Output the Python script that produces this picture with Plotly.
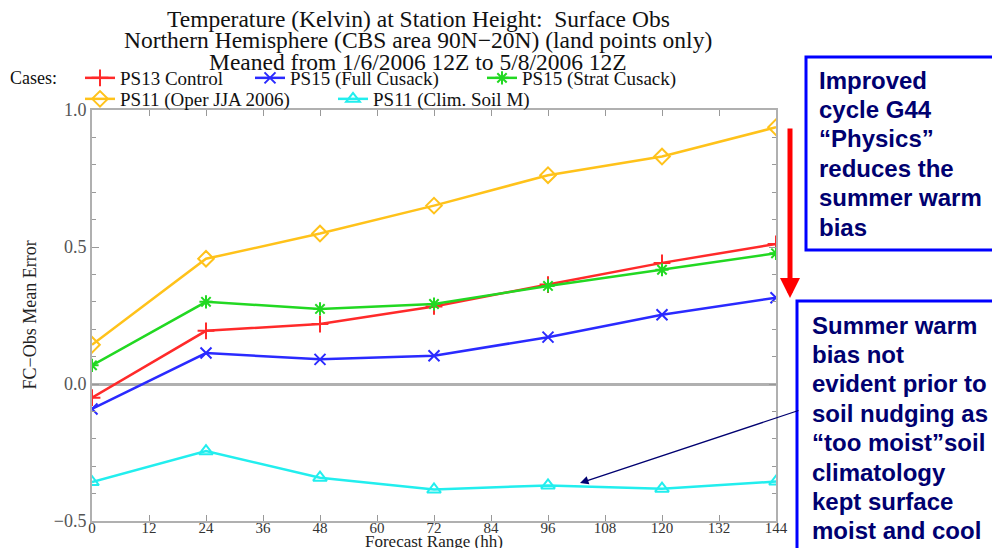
import plotly.graph_objects as go

# ---------------- data ----------------
forecast_hours = [0, 24, 48, 72, 96, 120, 144]
ps13_control = [-0.05, 0.194, 0.219, 0.283, 0.363, 0.442, 0.511]
ps15_full_cusack = [-0.091, 0.113, 0.090, 0.103, 0.171, 0.253, 0.315]
ps15_strat_cusack = [0.068, 0.300, 0.274, 0.292, 0.358, 0.417, 0.477]
ps11_oper = [0.143, 0.457, 0.549, 0.651, 0.762, 0.830, 0.937]
ps11_clim_soil = [-0.358, -0.245, -0.342, -0.385, -0.370, -0.382, -0.356]

series_names = ["PS13 Control", "PS15 (Full Cusack)", "PS15 (Strat Cusack)",
                "PS11 (Oper JJA 2006)", "PS11 (Clim. Soil M)"]
x_ticks = [0, 12, 24, 36, 48, 60, 72, 84, 96, 108, 120, 132, 144]
y_ticks = [-0.5, 0.0, 0.5, 1.0]
y_ticklabels = ["\u22120.5", "0.0", "0.5", "1.0"]

title_lines = ["Temperature (Kelvin) at Station Height:  Surface Obs",
               "Northern Hemisphere (CBS area 90N\u221220N) (land points only)",
               "Meaned from 1/6/2006 12Z to 5/8/2006 12Z"]
box1_lines = ["Improved", "cycle G44", "\u201cPhysics\u201d", "reduces the",
              "summer warm", "bias"]
box2_lines = ["Summer warm", "bias not", "evident prior to", "soil nudging as",
              "\u201ctoo moist\u201dsoil", "climatology", "kept surface",
              "moist and cool"]

# ---------------- layout geometry ----------------
# the page body has an 8px margin, so the figure starts at (8, 8) on screen
OFF = 8
W, H = 1000 - OFF, 548 - OFF
L, R, T, B = 92 - OFF, 224, 110 - OFF, 27
PW, PH = W - L - R, H - T - B


def px(xs):
    """screen x pixel -> paper coordinate"""
    return (xs - OFF - L) / PW


def py(ys):
    """screen y pixel -> paper coordinate"""
    return (H - B - (ys - OFF)) / PH


serif = "Liberation Serif"
sans = "Liberation Sans"
navy = "#000070"

styles = [
    dict(color="#ff2a2a", symbol="cross-thin-open", size=12),
    dict(color="#2a2aff", symbol="x-thin-open", size=11),
    dict(color="#22d822", symbol="asterisk-open", size=11),
    dict(color="#ffc21a", symbol="diamond-open", size=12),
    dict(color="#22eeee", symbol="triangle-up-open", size=12),
]
series = [ps13_control, ps15_full_cusack, ps15_strat_cusack, ps11_oper, ps11_clim_soil]
legend_keys = ["legend", "legend2", "legend3", "legend4", "legend5"]
legend_pos = [(80, 78), (250, 78), (482, 78), (80, 99), (333, 99)]

fig = go.Figure()
for name, vals, st, lk in zip(series_names, series, styles, legend_keys):
    fig.add_trace(go.Scatter(
        x=forecast_hours, y=vals, name=name, mode="lines+markers",
        line=dict(color=st["color"], width=2.5),
        marker=dict(symbol=st["symbol"], size=st["size"], color=st["color"],
                    line=dict(color=st["color"], width=2)),
        legend=lk,
    ))

legend_layouts = {}
for lk, (lx, ly) in zip(legend_keys, legend_pos):
    legend_layouts[lk] = dict(
        x=(lx - OFF) / W, y=1 - (ly - OFF) / H, xref="container", yref="container",
        xanchor="left", yanchor="middle", orientation="h",
        bgcolor="rgba(0,0,0,0)", borderwidth=0,
        font=dict(family=serif, size=19, color="#111"),
        itemwidth=30,
    )

annotations = []
for i, t in enumerate(title_lines):
    annotations.append(dict(text=t, x=px(418), y=py(18.5 + 21.5 * i), xref="paper", yref="paper",
                            xanchor="center", yanchor="middle", showarrow=False,
                            font=dict(family=serif, size=23.5, color="#111")))
annotations.append(dict(text="Cases:", x=px(8), y=py(78), xref="paper", yref="paper",
                        xanchor="left", yanchor="middle", showarrow=False,
                        font=dict(family=serif, size=18, color="#111")))
annotations.append(dict(text="FC\u2212Obs Mean Error", x=px(29), y=0.5, xref="paper", yref="paper",
                        xanchor="center", yanchor="middle", showarrow=False, textangle=-90,
                        font=dict(family=serif, size=18, color="#222")))
annotations.append(dict(text="Forecast Range (hh)", x=0.5, y=py(541), xref="paper", yref="paper",
                        xanchor="center", yanchor="middle", showarrow=False,
                        font=dict(family=serif, size=17, color="#222")))
for i, t in enumerate(box1_lines):
    annotations.append(dict(text="<b>%s</b>" % t, x=px(817), y=py(80 + 29.4 * i), xref="paper",
                            yref="paper", xanchor="left", yanchor="middle", showarrow=False,
                            font=dict(family=sans, size=24, color=navy)))
for i, t in enumerate(box2_lines):
    annotations.append(dict(text="<b>%s</b>" % t, x=px(810), y=py(325 + 29.4 * i), xref="paper",
                            yref="paper", xanchor="left", yanchor="middle", showarrow=False,
                            font=dict(family=sans, size=24, color=navy)))
# arrows
annotations.append(dict(text="", x=px(580), y=py(483), xref="paper", yref="paper",
                        ax=800 - 580, ay=410 - 483, showarrow=True, arrowhead=2,
                        arrowsize=1.3, arrowwidth=1.3, arrowcolor=navy))
annotations.append(dict(text="", x=px(790), y=py(298), xref="paper", yref="paper",
                        ax=0, ay=127 - 298, showarrow=True, arrowhead=2,
                        arrowsize=0.8, arrowwidth=5, arrowcolor="#ff0000"))

shapes = [
    dict(type="rect", xref="paper", yref="paper", x0=px(806), x1=px(998), y0=py(57), y1=py(250),
         line=dict(color="#0000ff", width=3), fillcolor="rgba(0,0,0,0)", layer="above"),
    dict(type="rect", xref="paper", yref="paper", x0=px(797), x1=px(1020), y0=py(301), y1=py(570),
         line=dict(color="#0000ff", width=3), fillcolor="rgba(0,0,0,0)", layer="above"),
]

fig.update_layout(
    width=W, height=H, margin=dict(l=L, r=R, t=T, b=B, pad=0, autoexpand=False),
    paper_bgcolor="white", plot_bgcolor="white",
    showlegend=True, annotations=annotations, shapes=shapes,
    **legend_layouts,
)
fig.update_xaxes(
    range=[0, 144], tickvals=x_ticks, ticktext=[str(v) for v in x_ticks],
    ticks="inside", ticklen=6, tickwidth=1, tickcolor="#999",
    showline=True, linecolor="#b0b0b0", linewidth=2, mirror="allticks",
    showgrid=False, zeroline=False, ticklabelstandoff=-8,
    tickfont=dict(family=serif, size=15, color="#333"),
)
fig.update_yaxes(
    range=[-0.5, 1.0], tickvals=y_ticks, ticktext=y_ticklabels,
    ticks="inside", ticklen=7, tickwidth=1, tickcolor="#999",
    minor=dict(dtick=0.1, ticks="inside", ticklen=4, tickcolor="#999"),
    showline=True, linecolor="#b0b0b0", linewidth=2, mirror="allticks",
    showgrid=False, zeroline=True, zerolinecolor="#b0b0b0", zerolinewidth=3,
    tickfont=dict(family=serif, size=18, color="#555"),
)

fig.write_html("out.html")
